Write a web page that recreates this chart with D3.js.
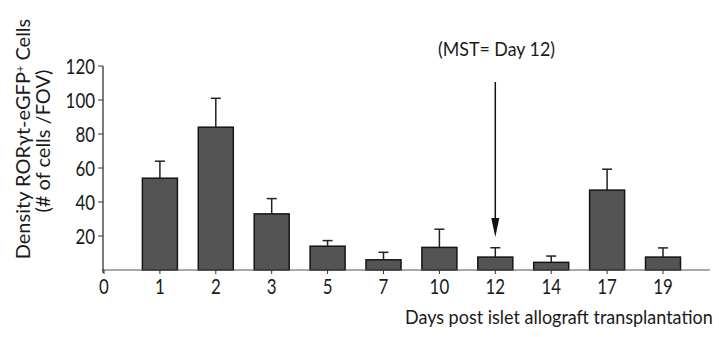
<!DOCTYPE html>
<html>
<head>
<meta charset="utf-8">
<script src="https://cdn.jsdelivr.net/npm/d3@7"></script>
<style>
  body { margin: 0; background: #fff; }
  svg text { font-family: Lato, "Open Sans", sans-serif; fill: #1a1a1a; }
</style>
</head>
<body>
<svg id="chart" width="719" height="337"></svg>
<script>
// days post transplantation (0 is only an axis label)
const days = ['0', '1', '2', '3', '5', '7', '10', '12', '14', '17', '19'];
const barDays = ['1', '2', '3', '5', '7', '10', '12', '14', '17', '19'];
const meanCells = [54, 84, 33, 14, 6, 13.3, 7.6, 4.5, 47, 7.6];
const semCells = [10, 17, 9, 3.3, 4.4, 10.7, 5.5, 3.7, 12.3, 5.4];
const yTicks = [20, 40, 60, 80, 100, 120];

const svg = d3.select('#chart');

const x = d3.scalePoint()
  .domain(days)
  .range([104, 663]);
const y = d3.scaleLinear()
  .domain([0, 120])
  .range([270, 66]);

const barW = 35;
const digitW = 9.8; // the source font is narrow, squeeze labels to match

// bars
svg.append('g').selectAll('rect')
  .data(barDays)
  .enter().append('rect')
  .attr('x', (d) => x(d) - barW / 2)
  .attr('y', (d, i) => y(meanCells[i]))
  .attr('width', barW)
  .attr('height', (d, i) => y(0) - y(meanCells[i]))
  .attr('fill', '#545454')
  .attr('stroke', '#151515')
  .attr('stroke-width', 1.5);

// upper error bars
const err = svg.append('g').attr('stroke', '#222').attr('stroke-width', 1.5);
err.selectAll('line.v')
  .data(barDays)
  .enter().append('line')
  .attr('class', 'v')
  .attr('x1', (d) => x(d)).attr('x2', (d) => x(d))
  .attr('y1', (d, i) => y(meanCells[i]))
  .attr('y2', (d, i) => y(meanCells[i] + semCells[i]));
err.selectAll('line.cap')
  .data(barDays)
  .enter().append('line')
  .attr('class', 'cap')
  .attr('x1', (d) => x(d) - 5).attr('x2', (d) => x(d) + 5)
  .attr('y1', (d, i) => y(meanCells[i] + semCells[i]))
  .attr('y2', (d, i) => y(meanCells[i] + semCells[i]));

// x axis
const gx = svg.append('g');
gx.append('line')
  .attr('x1', 102).attr('x2', 710)
  .attr('y1', y(0)).attr('y2', y(0))
  .attr('stroke', '#555').attr('stroke-width', 1.2);
gx.selectAll('line.tick')
  .data(days)
  .enter().append('line')
  .attr('class', 'tick')
  .attr('x1', (d) => x(d)).attr('x2', (d) => x(d))
  .attr('y1', y(0)).attr('y2', y(0) + 4)
  .attr('stroke', '#333');
gx.selectAll('text')
  .data(days)
  .enter().append('text')
  .attr('x', (d) => x(d))
  .attr('y', 294)
  .attr('text-anchor', 'middle')
  .attr('textLength', (d) => d.length * digitW)
  .attr('lengthAdjust', 'spacingAndGlyphs')
  .style('font-size', '21px')
  .text((d) => d);

// y axis
const gy = svg.append('g');
gy.append('line')
  .attr('x1', 103).attr('x2', 103)
  .attr('y1', y(120)).attr('y2', y(0) + 3)
  .attr('stroke', '#222').attr('stroke-width', 1.2);
gy.selectAll('line.tick')
  .data(yTicks)
  .enter().append('line')
  .attr('class', 'tick')
  .attr('x1', 98).attr('x2', 103)
  .attr('y1', (d) => y(d)).attr('y2', (d) => y(d))
  .attr('stroke', '#333');
gy.selectAll('text')
  .data(yTicks)
  .enter().append('text')
  .attr('x', 95)
  .attr('y', (d) => y(d))
  .attr('dy', '0.36em')
  .attr('text-anchor', 'end')
  .attr('textLength', (d) => String(d).length * digitW)
  .attr('lengthAdjust', 'spacingAndGlyphs')
  .style('font-size', '21px')
  .text((d) => d);

// y title, two rotated lines
const yt = svg.append('text')
  .attr('transform', 'translate(30,139) rotate(-90)')
  .attr('text-anchor', 'middle')
  .style('font-size', '20px');
yt.append('tspan').text('Density RORγt-eGFP');
yt.append('tspan').attr('baseline-shift', 'super').style('font-size', '11px').text('+');
yt.append('tspan').text(' Cells');
svg.append('text')
  .attr('transform', 'translate(50,141) rotate(-90)')
  .attr('text-anchor', 'middle')
  .style('font-size', '20px')
  .text('(# of cells /FOV)');

// x title, squeezed horizontally to the width of the narrow source font
const xt = svg.append('text')
  .style('font-size', '20px')
  .text('Days post islet allograft transplantation');
const xtScale = 308 / xt.node().getComputedTextLength();
xt.attr('transform', `translate(405,324) scale(${xtScale},1)`);

// MST annotation
svg.append('text')
  .attr('x', 438)
  .attr('y', 56)
  .attr('textLength', 117)
  .attr('lengthAdjust', 'spacingAndGlyphs')
  .style('font-size', '19px')
  .text('(MST= Day 12)');
const ax = x('12');
svg.append('line')
  .attr('x1', ax).attr('x2', ax)
  .attr('y1', 82).attr('y2', 220)
  .attr('stroke', '#111').attr('stroke-width', 1.5);
svg.append('path')
  .attr('d', `M${ax - 4},218 L${ax + 4},218 L${ax},237 Z`)
  .attr('fill', '#111');
</script>
</body>
</html>
